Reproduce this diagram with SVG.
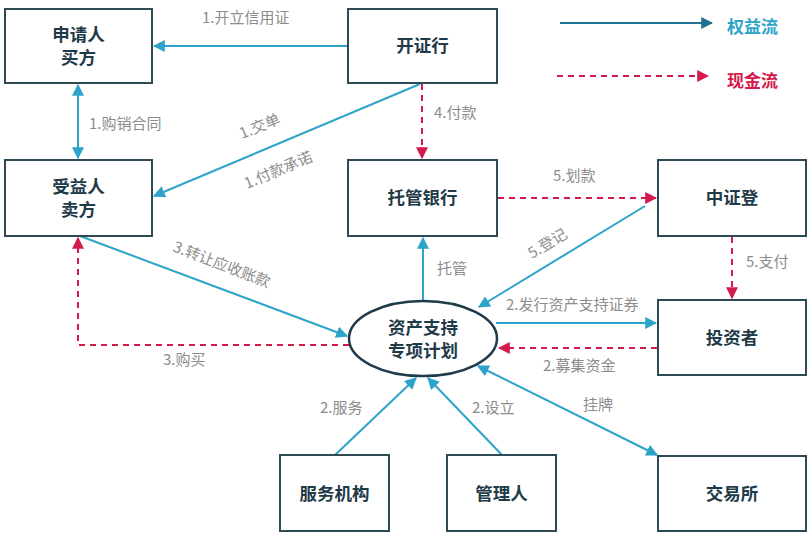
<svg xmlns="http://www.w3.org/2000/svg" width="811" height="538" viewBox="0 0 811 538">
<style>
.box{fill:#fff;stroke:#2d4a55;stroke-width:2}
.nt{font-family:"Noto Sans CJK SC","Noto Sans",sans-serif;font-size:17.5px;font-weight:bold;fill:#1f3a48;text-anchor:middle}
.lb{font-family:"Noto Sans CJK SC","Noto Sans",sans-serif;font-size:15px;fill:#8c8c8c}
.b{fill:none;stroke:#2ea3c9;stroke-width:2}
.r{fill:none;stroke:#d41a4b;stroke-width:2;stroke-dasharray:6 5}
</style>
<defs>
<marker id="ab" viewBox="0 0 10 10" refX="9" refY="5" markerWidth="6" markerHeight="6" orient="auto-start-reverse" markerUnits="strokeWidth"><path d="M0,0 L10,5 L0,10 z" fill="#2ea3c9"/></marker>
<marker id="ar" viewBox="0 0 10 10" refX="9" refY="5" markerWidth="6" markerHeight="6" orient="auto-start-reverse" markerUnits="strokeWidth"><path d="M0,0 L10,5 L0,10 z" fill="#d41a4b"/></marker>
<marker id="ad" viewBox="0 0 10 10" refX="9" refY="5" markerWidth="6" markerHeight="6" orient="auto" markerUnits="strokeWidth"><path d="M0,0 L10,5 L0,10 z" fill="#1f7390"/></marker>
</defs>
<rect width="811" height="538" fill="#fff"/>
<g id="legend">
<line x1="560" y1="23" x2="712" y2="23" stroke="#1f7390" stroke-width="2" marker-end="url(#ad)"/>
<text x="727" y="33" font-family="Noto Sans CJK SC,sans-serif" font-size="17" font-weight="bold" fill="#2ea3c9">权益流</text>
<line x1="557" y1="76" x2="708" y2="76" class="r" marker-end="url(#ar)"/>
<text x="727" y="87" font-family="Noto Sans CJK SC,sans-serif" font-size="17" font-weight="bold" fill="#d41a4b">现金流</text>
</g>
<g id="connectors">
<line class="b" x1="348" y1="46" x2="154" y2="46" marker-end="url(#ab)"/>
<text class="lb" x="202" y="23">1.开立信用证</text>
<line class="b" x1="78" y1="85" x2="78" y2="158" marker-start="url(#ab)" marker-end="url(#ab)"/>
<text class="lb" x="89" y="129">1.购销合同</text>
<line class="b" x1="420" y1="84" x2="154" y2="196" marker-end="url(#ab)"/>
<text class="lb" transform="translate(242,139) rotate(-22)">1.交单</text>
<text class="lb" transform="translate(247,189) rotate(-23)">1.付款承诺</text>
<line class="r" x1="422" y1="84" x2="422" y2="158" marker-end="url(#ar)"/>
<text class="lb" x="434" y="118">4.付款</text>
<line class="r" x1="498" y1="198" x2="656" y2="198" marker-end="url(#ar)"/>
<text class="lb" x="553" y="181">5.划款</text>
<line class="b" x1="645" y1="206" x2="479" y2="307" marker-end="url(#ab)"/>
<text class="lb" transform="translate(532,259) rotate(-31)">5.登记</text>
<line class="r" x1="732" y1="237" x2="732" y2="298" marker-end="url(#ar)"/>
<text class="lb" x="746" y="267">5.支付</text>
<line class="b" x1="423" y1="301" x2="423" y2="238" marker-end="url(#ab)"/>
<text class="lb" x="437" y="274">托管</text>
<line class="b" x1="496" y1="323" x2="656" y2="323" marker-end="url(#ab)"/>
<text class="lb" x="506" y="310">2.发行资产支持证券</text>
<line class="r" x1="657" y1="348" x2="499" y2="348" marker-end="url(#ar)"/>
<text class="lb" x="543" y="371">2.募集资金</text>
<line class="b" x1="80" y1="236" x2="347" y2="336" marker-end="url(#ab)"/>
<text class="lb" transform="translate(172,251) rotate(21)">3.转让应收账款</text>
<polyline class="r" points="349,345 78,345 78,238" marker-end="url(#ar)"/>
<text class="lb" x="163" y="365">3.购买</text>
<line class="b" x1="335" y1="455" x2="416" y2="378" marker-end="url(#ab)"/>
<text class="lb" x="320" y="413">2.服务</text>
<line class="b" x1="502" y1="455" x2="428" y2="378" marker-end="url(#ab)"/>
<text class="lb" x="472" y="413">2.设立</text>
<line class="b" x1="478" y1="366" x2="657" y2="455" marker-start="url(#ab)" marker-end="url(#ab)"/>
<text class="lb" x="583" y="410">挂牌</text>
</g>
<g id="n-buyer"><rect class="box" x="5" y="9" width="147" height="74"/><text class="nt" x="78.5" y="41">申请人</text><text class="nt" x="78.5" y="64">买方</text></g>
<g id="n-issuingbank"><rect class="box" x="348" y="9" width="149" height="74"/><text class="nt" x="422.5" y="52">开证行</text></g>
<g id="n-seller"><rect class="box" x="5" y="160" width="147" height="76"/><text class="nt" x="78.5" y="193">受益人</text><text class="nt" x="78.5" y="216">卖方</text></g>
<g id="n-custodian"><rect class="box" x="348" y="160" width="149" height="76"/><text class="nt" x="422.5" y="204">托管银行</text></g>
<g id="n-csdc"><rect class="box" x="658" y="160" width="148" height="76"/><text class="nt" x="732" y="204">中证登</text></g>
<g id="n-investor"><rect class="box" x="658" y="300" width="148" height="75"/><text class="nt" x="732" y="344">投资者</text></g>
<g id="n-plan"><ellipse cx="423" cy="338.5" rx="74" ry="37.5" fill="#fff" stroke="#1f3a48" stroke-width="2.5"/><text class="nt" x="423" y="334">资产支持</text><text class="nt" x="423" y="357">专项计划</text></g>
<g id="n-servicer"><rect class="box" x="280" y="455" width="109" height="76"/><text class="nt" x="334.5" y="500">服务机构</text></g>
<g id="n-manager"><rect class="box" x="447" y="455" width="109" height="76"/><text class="nt" x="501.5" y="500">管理人</text></g>
<g id="n-exchange"><rect class="box" x="658" y="456" width="148" height="75"/><text class="nt" x="732" y="500">交易所</text></g>
</svg>
